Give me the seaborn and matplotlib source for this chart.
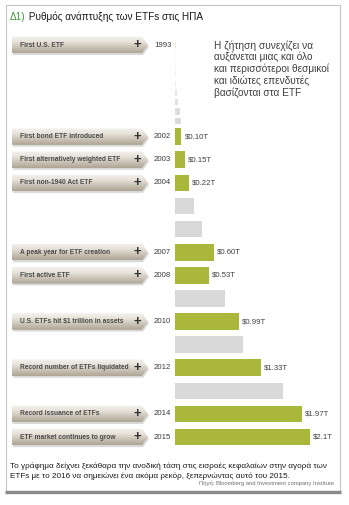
import numpy as np
import pandas as pd
import matplotlib
matplotlib.use("Agg")
import matplotlib.pyplot as plt
import seaborn as sns
from matplotlib.patches import Polygon, Rectangle
from matplotlib.colors import LinearSegmentedColormap

# ---------------- data ----------------
early_years = ["1993", "1994", "1995", "1996", "1997", "1998", "1999", "2000", "2001"]
early_values = [0.0005, 0.0004, 0.001, 0.002, 0.007, 0.016, 0.034, 0.066, 0.083]  # $ trillions

main_years = ["2002", "2003", "2004", "2005", "2006", "2007", "2008",
              "2009", "2010", "2011", "2012", "2013", "2014", "2015"]
main_values = [0.10, 0.15, 0.22, 0.30, 0.42, 0.60, 0.53,
               0.78, 0.99, 1.05, 1.33, 1.68, 1.97, 2.10]

tag_years = ["1993", "2002", "2003", "2004", "2007", "2008", "2010", "2012", "2014", "2015"]
tag_labels = ["First U.S. ETF", "First bond ETF introduced", "First alternatively weighted ETF",
              "First non-1940 Act ETF", "A peak year for ETF creation", "First active ETF",
              "U.S. ETFs hit $1 trillion in assets", "Record number of ETFs liquidated",
              "Record issuance of ETFs", "ETF market continues to grow"]
value_labels = {"2002": "$0.10T", "2003": "$0.15T", "2004": "$0.22T", "2007": "$0.60T",
                "2008": "$0.53T", "2010": "$0.99T", "2012": "$1.33T", "2014": "$1.97T",
                "2015": "$2.1T"}

title_prefix = "Δ1)"
title_text = " Ρυθμός ανάπτυξης των ETFs στις ΗΠΑ"
side_note = ["Η ζήτηση συνεχίζει να", "αυξάνεται μιας και όλο",
             "και περισσότεροι θεσμικοί", "και ιδιώτες επενδυτές",
             "βασίζονται στα ETF"]
caption = ["Το γράφημα δείχνει ξεκάθαρα την ανοδική τάση στις εισροές κεφαλαίων στην αγορά των",
           "ETFs με το 2016 να σημειώνει ένα ακόμα ρεκόρ, ξεπερνώντας αυτό του 2015."]
source = "Πηγή: Bloomberg and Investment company Institute"

# ---------------- style ----------------
sns.set_theme(style="white")
plt.rcParams["font.family"] = ["Liberation Sans", "DejaVu Sans"]

GREEN = "#a9b83a"
GRAY = "#d9d9d9"
W, H = 349, 505

fig = plt.figure(figsize=(W / 100, H / 100), dpi=100)
fig.patch.set_facecolor("white")

# background axes in pixel coordinates
ax_bg = fig.add_axes([0, 0, 1, 1], zorder=0)
ax_bg.set_xlim(0, W)
ax_bg.set_ylim(H, 0)
ax_bg.axis("off")

def fig_rect(x0, y0, x1, y1):
    return [x0 / W, 1 - y1 / H, (x1 - x0) / W, (y1 - y0) / H]

bar_x0, bar_x1 = 175, 340
px_per_T = 64.29
xmax = (bar_x1 - bar_x0) / px_per_T

ax_top = fig.add_axes(fig_rect(bar_x0, 40.3, bar_x1, 125.1), zorder=1)
ax_bot = fig.add_axes(fig_rect(bar_x0, 125.1, bar_x1, 448.6), zorder=1)

early_colors = ["#e4ebb8", "#f6f6f6", "#f3f3f3", "#efefef", "#ebebeb",
                "#e6e6e6", "#e0e0e0", "#dcdcdc", "#d9d9d9"]
df_e = pd.DataFrame({"year": early_years, "value": early_values})
sns.barplot(data=df_e, x="value", y="year", hue="year", palette=early_colors,
            orient="h", width=0.6, saturation=1, legend=False, ax=ax_top,
            linewidth=0.6)
for p, c in zip(ax_top.patches, early_colors):
    p.set_edgecolor(c)

main_colors = [GREEN if y in tag_years else GRAY for y in main_years]
df_m = pd.DataFrame({"year": main_years, "value": main_values})
sns.barplot(data=df_m, x="value", y="year", hue="year", palette=main_colors,
            orient="h", width=0.72, saturation=1, legend=False, ax=ax_bot,
            linewidth=0)

for ax in (ax_top, ax_bot):
    ax.set_xlim(0, xmax)
    ax.set_facecolor("none")
    ax.axis("off")

# value labels
for i, (y, v) in enumerate(zip(main_years, main_values)):
    if y in value_labels:
        ax_bot.annotate(value_labels[y], (v, i), xytext=(2.2, 0), textcoords="offset points",
                        va="center", ha="left", fontsize=5.6, color="#404040")

# helper: pixel y of a category row
def row_pixel_y(year):
    if year in early_years:
        ax, idx = ax_top, early_years.index(year)
    else:
        ax, idx = ax_bot, main_years.index(year)
    disp = ax.transData.transform((0, idx))
    return ax_bg.transData.inverted().transform(disp)[1]

tag_cmap = LinearSegmentedColormap.from_list("tag", ["#f4f2ed", "#e6e2d9", "#c9c2b5", "#aea594"])
grad = np.linspace(0, 1, 64).reshape(-1, 1)

for year, label in zip(tag_years, tag_labels):
    yc = row_pixel_y(year)
    h = 16.5
    top, bot = yc - h / 2, yc + h / 2
    x0, x1, xt = 12, 142, 148
    pts = [(x0, top), (x1, top), (xt, yc), (x1, bot), (x0, bot)]
    ax_bg.add_patch(Polygon([(x + 1.0, y + 1.8) for x, y in pts], closed=True,
                            fc="#000000", alpha=0.15, ec="none", zorder=2))
    poly = Polygon(pts, closed=True, fc="none", ec="none", zorder=3)
    ax_bg.add_patch(poly)
    im = ax_bg.imshow(grad, extent=(x0, xt, bot, top), cmap=tag_cmap, aspect="auto",
                      zorder=3, interpolation="bilinear")
    im.set_clip_path(poly)
    ax_bg.text(19.5, yc, label, fontsize=4.8, fontweight="bold", color="#4a4a4a",
               va="center", ha="left", zorder=4)
    ax_bg.text(137.5, yc, "+", fontsize=9.5, fontweight="bold", color="#333333",
               va="center", ha="center", zorder=4)
    ax_bg.text(154, yc, year, fontsize=5.6, color="#3a3a3a", va="center", ha="left", zorder=4)

# frame
ax_bg.add_patch(Rectangle((5.5, 4.5), 334.5, 486, fc="none", ec="#c6c6c6", lw=0.8, zorder=1))
ax_bg.plot([5, 340.5], [491.5, 491.5], color="#8a8a8a", lw=2.4, solid_capstyle="butt", zorder=1)

# title
t1 = ax_bg.text(10, 20.5, title_prefix, fontsize=7.2, color="#3c9a3a", va="baseline", ha="left")
ax_bg.annotate(title_text, xy=(1, 0), xycoords=t1, va="bottom", ha="left",
               fontsize=7.2, color="#1a1a1a")

# side note
for k, line in enumerate(side_note):
    ax_bg.text(214, 48.5 + k * 11.9, line, fontsize=7.3, color="#404040",
               va="baseline", ha="left")

# caption and source
for k, line in enumerate(caption):
    ax_bg.text(10, 467.5 + k * 10.5, line, fontsize=5.88, color="#1a1a1a",
               va="baseline", ha="left")
ax_bg.text(334, 485.5, source, fontsize=4.2, color="#707070", va="baseline", ha="right")

ax_bg.set_xlim(0, W)
ax_bg.set_ylim(H, 0)

fig.savefig("out.png", dpi=100, facecolor="white")
